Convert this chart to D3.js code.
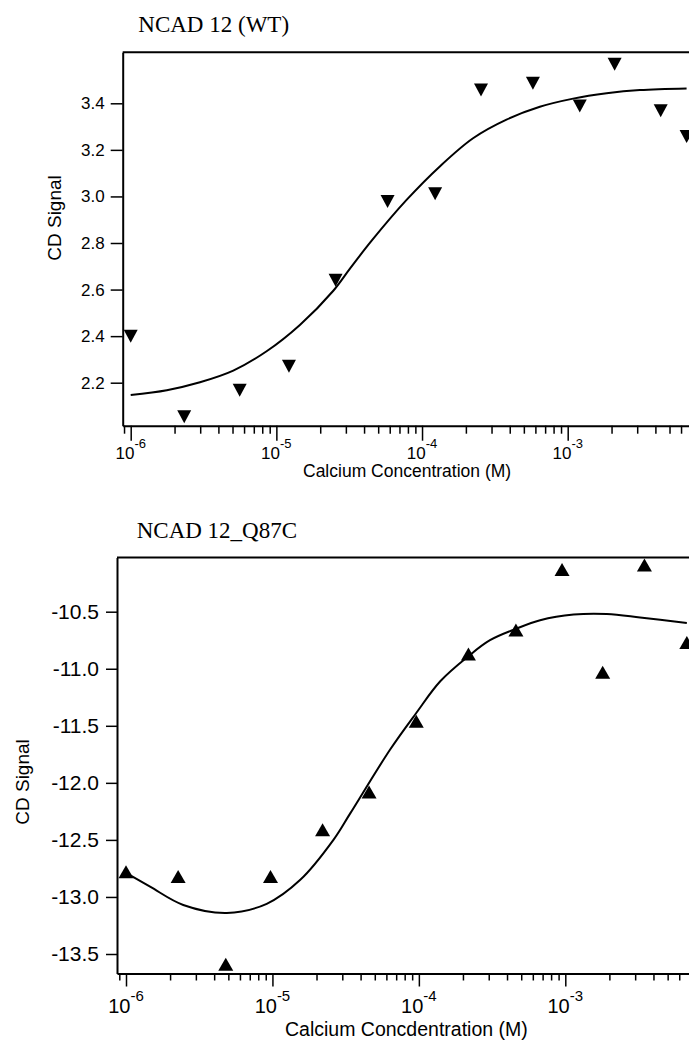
<!DOCTYPE html>
<html>
<head>
<meta charset="utf-8">
<script src="https://cdn.jsdelivr.net/npm/d3@7"></script>
<style>
  html, body { margin: 0; padding: 0; background: #fff; }
  svg { display: block; }
</style>
</head>
<body>
<div id="chart"></div>
<script>
// ---------- DATA ----------
// Panel 1: NCAD 12 (WT)
const wtTitle = "NCAD 12 (WT)";
const wtXLabel = "Calcium Concentration (M)";
const wtConc   = [1e-6, 2.33e-6, 5.6e-6, 1.22e-5, 2.55e-5, 5.8e-5, 1.23e-4, 2.54e-4, 5.77e-4, 1.21e-3, 2.1e-3, 4.35e-3, 6.55e-3];
const wtSignal = [2.40, 2.054, 2.168, 2.271, 2.640, 2.978, 3.011, 3.457, 3.486, 3.388, 3.568, 3.368, 3.257];
const wtFitConc   = [1.0e-6, 1.77e-6, 2.99e-6, 5.06e-6, 8.57e-6, 1.45e-5, 2.46e-5, 3.20e-5, 4.51e-5, 7.83e-5, 1.33e-4, 2.24e-4, 3.80e-4, 6.44e-4, 1.09e-3, 1.85e-3, 3.13e-3, 6.55e-3];
const wtFitSignal = [2.147, 2.168, 2.202, 2.252, 2.335, 2.448, 2.595, 2.690, 2.810, 2.985, 3.130, 3.250, 3.330, 3.385, 3.420, 3.443, 3.457, 3.464];
const wtYTicks = [2.2, 2.4, 2.6, 2.8, 3.0, 3.2, 3.4];

// Panel 2: NCAD 12_Q87C
const mutTitle = "NCAD 12_Q87C";
const mutXLabel = "Calcium Concdentration (M)";
const mutConc   = [1e-6, 2.27e-6, 4.8e-6, 9.7e-6, 2.2e-5, 4.57e-5, 9.6e-5, 2.18e-4, 4.6e-4, 9.5e-4, 1.8e-3, 3.47e-3, 6.76e-3];
const mutSignal = [-12.78, -12.82, -13.59, -12.82, -12.41, -12.08, -11.46, -10.87, -10.66, -10.13, -11.03, -10.09, -10.77];
const mutFitConc   = [1e-6, 1.46e-6, 2.46e-6, 4.88e-6, 9.14e-6, 1.55e-5, 2.61e-5, 3.39e-5, 6.35e-5, 9.57e-5, 1.40e-4, 2.18e-4, 3.06e-4, 4.61e-4, 6.73e-4, 1.14e-3, 1.92e-3, 3.24e-3, 6.76e-3];
const mutFitSignal = [-12.79, -12.91, -13.07, -13.14, -13.06, -12.85, -12.50, -12.27, -11.71, -11.39, -11.11, -10.89, -10.75, -10.65, -10.575, -10.525, -10.52, -10.55, -10.60];
const mutYTicks = [-13.5, -13.0, -12.5, -12.0, -11.5, -11.0, -10.5];

const yLabel = "CD Signal";
const xMajorExp = [-6, -5, -4, -3];

// ---------- DRAWING ----------
const W = 689, H = 1046;
const svg = d3.select("#chart").append("svg").attr("width", W).attr("height", H)
  .style("background", "#fff");

function panel(cfg) {
  const g = svg.append("g");
  const x = d3.scaleLog().domain([1e-6, 1e-3]).range([cfg.xDec6, cfg.xDec3]);
  x.domain([x.invert(cfg.left), x.invert(W)]).range([cfg.left, W]);
  const y = d3.scaleLinear().domain(cfg.yAnchor).range(cfg.yAnchorPx);
  y.domain([y.invert(cfg.bottom), y.invert(cfg.top)]).range([cfg.bottom, cfg.top]);

  const minor = [];
  for (let e = -7; e <= -2; e++) for (let m = 2; m <= 9; m++) {
    const v = m * Math.pow(10, e);
    if (v >= x.domain()[0] && v <= x.domain()[1]) minor.push(v);
  }
  const major = xMajorExp.map(e => Math.pow(10, e));

  g.append("line").attr("x1", cfg.left).attr("x2", W)
    .attr("y1", cfg.top).attr("y2", cfg.top)
    .attr("stroke", "#000").attr("stroke-width", 2);

  const xa = g.append("g").attr("transform", `translate(0,${cfg.bottom})`);
  xa.call(d3.axisBottom(x).tickValues(minor).tickSize(cfg.minorLen).tickSizeOuter(0).tickFormat(""));
  xa.append("g").call(d3.axisBottom(x).tickValues(major).tickSize(cfg.majorLen).tickSizeOuter(0).tickFormat(""))
    .select(".domain").remove();
  xa.select(".domain").attr("stroke-width", 2);
  xa.selectAll(".tick line").attr("stroke-width", 1.5);

  const lab = g.append("g").selectAll("text").data(xMajorExp).join("text")
    .attr("x", d => x(Math.pow(10, d)))
    .attr("y", cfg.xLabBase)
    .attr("text-anchor", "middle")
    .style("font-family", "'Liberation Sans', Arial, sans-serif")
    .style("font-size", cfg.xLabSize + "px");
  lab.append("tspan").text("10");
  lab.append("tspan").attr("dy", -cfg.supShift).style("font-size", cfg.supSize + "px").text(d => String(d));

  const ya = g.append("g").attr("transform", `translate(${cfg.left},0)`);
  ya.call(d3.axisLeft(y).tickValues(cfg.yTicks).tickSize(cfg.yTickLen).tickSizeOuter(0)
    .tickPadding(cfg.yPad).tickFormat(d => d.toFixed(1)));
  ya.select(".domain").attr("stroke-width", 2);
  ya.selectAll(".tick line").attr("stroke-width", 1.5);
  ya.selectAll(".tick text")
    .style("font-family", "'Liberation Sans', Arial, sans-serif")
    .style("font-size", cfg.yLabSize + "px").attr("fill", "#000");

  const fit = cfg.fitConc.map((c, i) => [c, cfg.fitSignal[i]]);
  g.append("path").datum(fit)
    .attr("fill", "none").attr("stroke", "#000").attr("stroke-width", 2)
    .attr("d", d3.line().x(d => x(d[0])).y(d => y(d[1])).curve(d3.curveCatmullRom.alpha(0.5)));

  const pts = cfg.conc.map((c, i) => [c, cfg.signal[i]]);
  const mw = cfg.markW / 2, mh = cfg.markH / 2;
  g.append("g").selectAll("path").data(pts).join("path")
    .attr("transform", d => `translate(${x(d[0])},${y(d[1])})`)
    .attr("d", cfg.down
      ? `M${-mw},${-mh}L${mw},${-mh}L0,${mh}Z`
      : `M${-mw},${mh}L${mw},${mh}L0,${-mh}Z`)
    .attr("fill", "#000");

  g.append("text").attr("x", cfg.titleX).attr("y", cfg.titleY)
    .style("font-family", "'Liberation Serif', 'Times New Roman', serif")
    .style("font-size", cfg.titleSize + "px").text(cfg.title);

  g.append("text").attr("x", cfg.xTitleX).attr("y", cfg.xTitleY)
    .style("font-family", "'Liberation Sans', Arial, sans-serif")
    .style("font-size", cfg.xTitleSize + "px").text(cfg.xTitle);
  g.append("text")
    .attr("transform", `translate(${cfg.yTitleX},${cfg.yTitleY}) rotate(-90)`)
    .attr("text-anchor", "middle")
    .style("font-family", "'Liberation Sans', Arial, sans-serif")
    .style("font-size", cfg.yTitleSize + "px").text(yLabel);
}

panel({
  title: wtTitle, xTitle: wtXLabel,
  conc: wtConc, signal: wtSignal, fitConc: wtFitConc, fitSignal: wtFitSignal, yTicks: wtYTicks,
  left: 122.7, top: 52.3, bottom: 425.7,
  xDec6: 130.7, xDec3: 567.7,
  yAnchor: [2.2, 3.4], yAnchorPx: [382.7, 103.3],
  minorLen: 8, majorLen: 15, yTickLen: 12, yPad: 6,
  xLabBase: 459, xLabSize: 17, supSize: 13, supShift: 11,
  yLabSize: 17,
  markW: 14, markH: 13, down: true,
  titleX: 138.3, titleY: 31.7, titleSize: 23,
  xTitleX: 303, xTitleY: 477, xTitleSize: 17.5,
  yTitleX: 61, yTitleY: 218, yTitleSize: 19
});

panel({
  title: mutTitle, xTitle: mutXLabel,
  conc: mutConc, signal: mutSignal, fitConc: mutFitConc, fitSignal: mutFitSignal, yTicks: mutYTicks,
  left: 117, top: 557.5, bottom: 973.5,
  xDec6: 126, xDec3: 565.3,
  yAnchor: [-13.5, -10.5], yAnchorPx: [954, 611.7],
  minorLen: 7, majorLen: 13, yTickLen: 11, yPad: 7,
  xLabBase: 1013, xLabSize: 20, supSize: 15, supShift: 12,
  yLabSize: 21,
  markW: 15, markH: 13, down: false,
  titleX: 136.7, titleY: 538.3, titleSize: 23,
  xTitleX: 285, xTitleY: 1036, xTitleSize: 19.5,
  yTitleX: 29, yTitleY: 782, yTitleSize: 19
});
</script>
</body>
</html>
